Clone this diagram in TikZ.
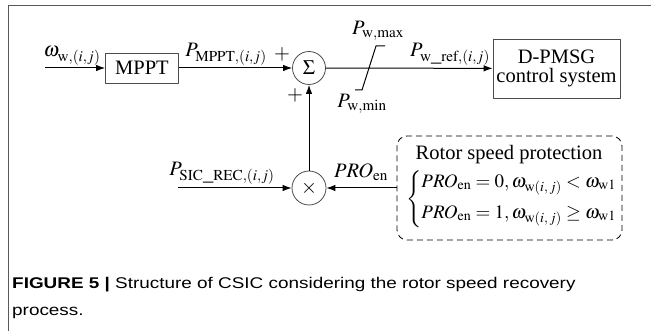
\documentclass[tikz,border=0pt]{standalone}
\usepackage{mathptmx}
\usepackage{fontspec}
\setmainfont{Liberation Serif}
\newfontfamily\capfont[FakeStretch=1.22]{Liberation Sans}
\usetikzlibrary{arrows.meta}

\begin{document}
\begin{tikzpicture}[x=1pt,y=-1pt,line join=round,
  font=\fontsize{20.5}{21}\selectfont,
  blk/.style={draw=black!70,line width=0.8pt,inner sep=0pt},
  giunto/.style={circle,draw=black!70,line width=0.8pt,inner sep=0pt},
  freccia/.style={line width=1pt,-{Latex[length=9pt,width=6.5pt]}},
  lbl/.style={inner sep=0pt}]

  \useasboundingbox (0,0) rectangle (651,331);

  % ---- la cornice --------------------------------------------------------
  \draw[black!65,line width=1pt] (8,331) -- (8,6) -- (651,6);

  % ---- i blocchi della catena principale ---------------------------------
  \node[blk,minimum width=73pt,minimum height=30pt] (mppt) at (142,68) {MPPT};
  \node[giunto,minimum size=33pt] (somma) at (309,68) {$\Sigma$};
  \node[blk,minimum width=127pt,minimum height=59pt,align=center,
        font=\fontsize{20.5}{19.5}\selectfont] (pmsg) at (556.5,68.5)
        {D-PMSG\\control system};

  % ---- moltiplicatore e protezione ---------------------------------------
  \node[giunto,minimum size=34pt] (molt) at (309,188) {$\times$};
  \node[blk,draw=black,dashed,dash pattern=on 6pt off 4pt,rounded corners=10pt,
        minimum width=225pt,minimum height=104pt] (prot) at (509.5,188) {};
  \node[lbl] (titolo) at (509,155) {Rotor speed protection};
  \node[lbl,anchor=west,font=\fontsize{19}{21}\selectfont] (casi) at (406,199)
    {$\left\{\begin{array}{@{}l@{}}
      \mathit{PRO}_{\mathrm{en}}=0,\omega_{\mathrm{w}(i,\,j)}<\omega_{\mathrm{w1}}\\[10pt]
      \mathit{PRO}_{\mathrm{en}}=1,\omega_{\mathrm{w}(i,\,j)}\geq\omega_{\mathrm{w1}}
    \end{array}\right.$};

  % ---- ingressi ------------------------------------------------------------
  \coordinate (win) at (45,68);
  \coordinate (psic) at (178,188);

  % ---- collegamenti --------------------------------------------------------
  \draw[freccia] (win) -- (mppt);
  \draw[freccia] (mppt) -- (somma);
  \draw[freccia] (somma) -- (pmsg);
  \draw[freccia] (molt) -- (somma);
  \draw[freccia] (psic) -- (molt);
  \draw[freccia] (prot) -- (molt);

  % ---- il limitatore -------------------------------------------------------
  \draw[line width=1pt] (355,90) -- (362,90) -- (376,46) -- (385,46);

  % ---- etichette -----------------------------------------------------------
  \node[lbl,anchor=south] (lw)   at (72,65)   {$\omega_{\mathrm{w},(i,j)}$};
  \node[lbl,anchor=south] (lpm)  at (226,65)  {$P_{\mathrm{MPPT},(i,j)}$};
  \node[lbl] (piu1) at (282,54)  {$+$};
  \node[lbl] (piu2) at (295,95)  {$+$};
  \node[lbl,anchor=south] (lmax) at (378,41) {$P_{\mathrm{w,max}}$};
  \node[lbl,anchor=north] (lmin) at (362,94) {$P_{\mathrm{w,min}}$};
  \node[lbl,anchor=south] (lref) at (450,65)  {$P_{\mathrm{w\_ref},(i,j)}$};
  \node[lbl,anchor=south] (lsic) at (222,184) {$P_{\mathrm{SIC\_REC},(i,j)}$};
  \node[lbl,anchor=south] (lpro) at (361,181) {$\mathit{PRO}_{\mathrm{en}}$};

  % ---- didascalia ----------------------------------------------------------
  \node[lbl,anchor=north west,align=left,font=\capfont\fontsize{15.5}{27}\selectfont]
    (didasc) at (12,277)
    {\textbf{FIGURE 5 |} Structure of CSIC considering the rotor speed recovery\\process.};

\end{tikzpicture}
\end{document}
